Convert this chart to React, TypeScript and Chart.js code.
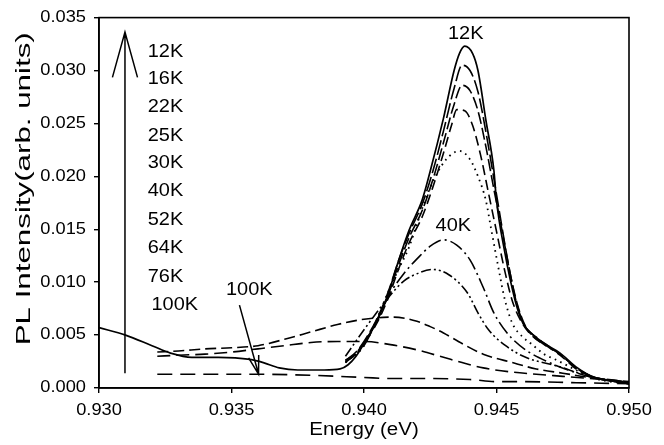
import React, { useEffect, useRef } from "react";
import { Chart, registerables } from "chart.js";

Chart.register(...registerables);

// ---------- axes ----------
const X_MIN = 0.93;
const X_MAX = 0.95;
const Y_MIN = 0;
const Y_MAX = 0.035;
const X_TICKS = [0.93, 0.935, 0.94, 0.945, 0.95];
const Y_TICKS = [0, 0.005, 0.01, 0.015, 0.02, 0.025, 0.03, 0.035];
const X_TITLE = "Energy (eV)";
const Y_TITLE = "PL Intensity(arb. units)";

// ---------- series (energy eV, PL intensity) ----------
const E_12K = [0.93, 0.931, 0.932, 0.9327, 0.9335, 0.9345, 0.9357, 0.9362, 0.9368, 0.9375, 0.9385, 0.9391, 0.9394, 0.9397, 0.94, 0.9405, 0.9409, 0.9413, 0.9417, 0.9422, 0.9425, 0.943, 0.9434, 0.9436, 0.9438, 0.9441, 0.9443, 0.9446, 0.9449, 0.945, 0.9453, 0.9457, 0.946, 0.9463, 0.9468, 0.9474, 0.948, 0.9487, 0.9493, 0.95];
const I_12K = [0.0057, 0.005, 0.004, 0.0033, 0.0029, 0.0029, 0.0027, 0.0024, 0.0019, 0.0017, 0.0017, 0.0018, 0.0022, 0.003, 0.0042, 0.0064, 0.0088, 0.012, 0.0149, 0.0178, 0.0205, 0.0255, 0.03, 0.0316, 0.0323, 0.0316, 0.03, 0.0253, 0.0206, 0.0177, 0.013, 0.0083, 0.0061, 0.0052, 0.0042, 0.0033, 0.002, 0.001, 0.0007, 0.0005];

const E_16K = [0.9393, 0.9397, 0.94, 0.9405, 0.9409, 0.9413, 0.9417, 0.9422, 0.9426, 0.943, 0.9434, 0.9437, 0.944, 0.9443, 0.9446, 0.9449, 0.9451, 0.9454, 0.9457, 0.946, 0.9463, 0.9468, 0.9474, 0.948, 0.9487, 0.9493, 0.95];
const I_16K = [0.0026, 0.0034, 0.0044, 0.0066, 0.009, 0.012, 0.0146, 0.0174, 0.0205, 0.0243, 0.0283, 0.0305, 0.03, 0.028, 0.0242, 0.0198, 0.0168, 0.0124, 0.0086, 0.0062, 0.0051, 0.0041, 0.0032, 0.0019, 0.001, 0.0007, 0.0004];

const E_22K = [0.9393, 0.9397, 0.94, 0.9405, 0.9409, 0.9413, 0.9417, 0.9422, 0.9426, 0.943, 0.9434, 0.9437, 0.944, 0.9443, 0.9446, 0.9449, 0.9452, 0.9455, 0.9458, 0.9461, 0.9465, 0.947, 0.9475, 0.948, 0.9487, 0.9493, 0.95];
const I_22K = [0.0026, 0.0033, 0.0043, 0.0064, 0.0087, 0.0116, 0.0142, 0.0168, 0.0197, 0.0232, 0.0268, 0.0286, 0.0281, 0.0262, 0.0228, 0.0188, 0.015, 0.011, 0.0078, 0.0058, 0.0048, 0.0039, 0.003, 0.0019, 0.001, 0.0007, 0.0004];

const E_25K = [0.9393, 0.9397, 0.94, 0.9405, 0.9409, 0.9413, 0.9417, 0.9422, 0.9426, 0.943, 0.9433, 0.9435, 0.9438, 0.9441, 0.9444, 0.9447, 0.945, 0.9453, 0.9456, 0.946, 0.9464, 0.947, 0.9475, 0.948, 0.9487, 0.9493, 0.95];
const I_25K = [0.0025, 0.0032, 0.0042, 0.0062, 0.0084, 0.0112, 0.0137, 0.0162, 0.019, 0.0222, 0.0248, 0.0263, 0.0262, 0.0248, 0.022, 0.0184, 0.0148, 0.0112, 0.0082, 0.006, 0.0048, 0.0038, 0.0029, 0.0018, 0.001, 0.0007, 0.0004];

const E_30K = [0.9393, 0.94, 0.9405, 0.9409, 0.9413, 0.9417, 0.942, 0.9423, 0.9427, 0.9431, 0.9436, 0.944, 0.9443, 0.9446, 0.9448, 0.9451, 0.9453, 0.9456, 0.946, 0.9463, 0.9468, 0.9473, 0.948, 0.9487, 0.95];
const I_30K = [0.0024, 0.004, 0.0066, 0.009, 0.0112, 0.0133, 0.0155, 0.0177, 0.02, 0.0216, 0.0224, 0.0216, 0.02, 0.0177, 0.015, 0.011, 0.0085, 0.0061, 0.0048, 0.0042, 0.0032, 0.0026, 0.0017, 0.0009, 0.0004];

const E_40K = [0.9393, 0.94, 0.9405, 0.941, 0.9415, 0.942, 0.9425, 0.943, 0.9435, 0.944, 0.9445, 0.9449, 0.9454, 0.9461, 0.947, 0.9477, 0.9486, 0.95];
const I_40K = [0.0024, 0.004, 0.0065, 0.009, 0.0108, 0.0122, 0.0134, 0.014, 0.0135, 0.0121, 0.0095, 0.0071, 0.0052, 0.0036, 0.0024, 0.0017, 0.001, 0.0004];

const E_52K = [0.9393, 0.94, 0.9405, 0.941, 0.9415, 0.9421, 0.9426, 0.9432, 0.9439, 0.9443, 0.9447, 0.9454, 0.9461, 0.9474, 0.9485, 0.95];
const I_52K = [0.003, 0.0055, 0.0072, 0.0088, 0.0101, 0.0109, 0.0112, 0.0107, 0.009, 0.0071, 0.0055, 0.0039, 0.0029, 0.002, 0.0011, 0.0005];

const E_64K = [0.9322, 0.933, 0.934, 0.935, 0.936, 0.937, 0.938, 0.939, 0.94, 0.9411, 0.942, 0.9425, 0.943, 0.9437, 0.9445, 0.9456, 0.9465, 0.9475, 0.9485, 0.95];
const I_64K = [0.0034, 0.0035, 0.0037, 0.0038, 0.004, 0.0046, 0.0053, 0.006, 0.0065, 0.0067, 0.0063, 0.0058, 0.0052, 0.0042, 0.0032, 0.0024, 0.0018, 0.0014, 0.001, 0.0006];

const E_76K = [0.9322, 0.933, 0.934, 0.935, 0.936, 0.937, 0.938, 0.939, 0.94, 0.941, 0.942, 0.943, 0.9437, 0.9445, 0.9456, 0.9465, 0.9475, 0.949, 0.95];
const I_76K = [0.003, 0.0031, 0.0032, 0.0034, 0.0037, 0.004, 0.0043, 0.0044, 0.0044, 0.0041, 0.0036, 0.0029, 0.0024, 0.0019, 0.0015, 0.0013, 0.0011, 0.0008, 0.0006];

const E_100K = [0.9322, 0.934, 0.936, 0.938, 0.94, 0.941, 0.942, 0.944, 0.945, 0.946, 0.948, 0.95];
const I_100K = [0.0013, 0.0013, 0.0013, 0.0012, 0.001, 0.0009, 0.0009, 0.0008, 0.0006, 0.0006, 0.0005, 0.0004];

const TEMPS = ["12K", "16K", "22K", "25K", "30K", "40K", "52K", "64K", "76K", "100K"];
const ENERGIES = [E_12K, E_16K, E_22K, E_25K, E_30K, E_40K, E_52K, E_64K, E_76K, E_100K];
const INTENSITIES = [I_12K, I_16K, I_22K, I_25K, I_30K, I_40K, I_52K, I_64K, I_76K, I_100K];

// line styles (dash patterns in px), one per temperature
const DASHES: number[][] = [
  [],
  [15, 4],
  [12, 4],
  [10, 5],
  [1.6, 4.4],
  [14, 4, 2, 4],
  [10, 3, 2, 3, 2, 3],
  [11, 5],
  [13, 6],
  [15, 8],
];

// ---------- annotations (data coordinates) ----------
const LIST_X = 0.93184;
const LIST_X_LAST = 0.93198;
const LIST_Y = [0.03177, 0.02915, 0.02651, 0.02379, 0.0212, 0.01856, 0.01588, 0.01318, 0.0105, 0.00786];
const PEAK_LABEL = { text: "12K", x: 0.94384, y: 0.0334 };
const LABEL_40K = { text: "40K", x: 0.94337, y: 0.01525 };
const LABEL_100K = { text: "100K", x: 0.93567, y: 0.0092 };
const ARROW_100K = { x1: 0.9353, y1: 0.00783, x2: 0.93602, y2: 0.00132 };
const ARROW_T = { x: 0.93098, y1: 0.00139, y2: 0.03363 };

const FONT = '"Liberation Sans", Arial, Helvetica, sans-serif';
const TEXT_STRETCH = 1.14;

function drawArrow(ctx: CanvasRenderingContext2D, x1: number, y1: number, x2: number, y2: number, head: number, ang: number) {
  ctx.beginPath();
  ctx.moveTo(x1, y1);
  ctx.lineTo(x2, y2);
  const a = Math.atan2(y1 - y2, x1 - x2);
  ctx.moveTo(x2 + head * Math.cos(a + ang), y2 + head * Math.sin(a + ang));
  ctx.lineTo(x2, y2);
  ctx.lineTo(x2 + head * Math.cos(a - ang), y2 + head * Math.sin(a - ang));
  ctx.stroke();
}

const annotPlugin = {
  id: "annot",
  afterDraw(chart: any) {
    const { ctx, chartArea: a, scales } = chart;
    const xs = scales.x;
    const ys = scales.y;
    ctx.save();
    ctx.strokeStyle = "#000";
    ctx.lineWidth = 1.6;
    ctx.setLineDash([]);
    ctx.strokeRect(a.left, a.top, a.right - a.left, a.bottom - a.top);

    // arrows
    ctx.lineWidth = 1.5;
    drawArrow(ctx, xs.getPixelForValue(ARROW_T.x), ys.getPixelForValue(ARROW_T.y1), xs.getPixelForValue(ARROW_T.x), ys.getPixelForValue(ARROW_T.y2), 47, 0.27);
    drawArrow(ctx, xs.getPixelForValue(ARROW_100K.x1), ys.getPixelForValue(ARROW_100K.y1), xs.getPixelForValue(ARROW_100K.x2), ys.getPixelForValue(ARROW_100K.y2), 19, 0.28);

    // labels
    ctx.fillStyle = "#000";
    ctx.font = `17.5px ${FONT}`;
    ctx.textBaseline = "middle";
    ctx.textAlign = "left";
    TEMPS.forEach((t, i) => {
      const lx = i === TEMPS.length - 1 ? LIST_X_LAST : LIST_X;
      ctx.fillText(t, xs.getPixelForValue(lx), ys.getPixelForValue(LIST_Y[i]));
    });
    ctx.textAlign = "center";
    [PEAK_LABEL, LABEL_40K, LABEL_100K].forEach((l) => {
      ctx.fillText(l.text, xs.getPixelForValue(l.x), ys.getPixelForValue(l.y));
    });

    // y-axis title
    const raw = (ctx as any)._rawFillText || ctx.fillText.bind(ctx);
    ctx.font = `20px ${FONT}`;
    const natural = ctx.measureText(Y_TITLE).width;
    const targetLen = 313;
    ctx.translate(24.5, (a.top + a.bottom) / 2 - 14);
    ctx.rotate(-Math.PI / 2);
    ctx.scale(targetLen / natural, 1);
    ctx.textAlign = "center";
    ctx.textBaseline = "middle";
    raw(Y_TITLE, 0, 0);
    ctx.restore();
  },
};

export default function App() {
  const ref = useRef<HTMLCanvasElement | null>(null);

  useEffect(() => {
    const canvas = ref.current;
    if (!canvas) return;
    const ctx = canvas.getContext("2d") as any;
    if (!ctx._rawFillText) {
      const rawFill = ctx.fillText.bind(ctx);
      ctx._rawFillText = rawFill;
      ctx.fillText = (text: string, x: number, y: number) => {
        ctx.save();
        ctx.translate(x, y);
        ctx.scale(TEXT_STRETCH, 1);
        rawFill(text, 0, 0);
        ctx.restore();
      };
    }

    const datasets = TEMPS.map((t, k) => ({
      label: t,
      data: ENERGIES[k].map((e, i) => ({ x: e, y: INTENSITIES[k][i] })),
      showLine: true,
      fill: false,
      borderColor: "#000",
      backgroundColor: "#000",
      borderWidth: k === 0 ? 1.7 : k === 4 ? 1.8 : 1.6,
      borderDash: DASHES[k],
      borderCapStyle: "butt",
      pointRadius: 0,
      pointHoverRadius: 0,
      cubicInterpolationMode: "monotone",
    }));

    const tickFont = { family: FONT, size: 16 };

    const chart = new Chart(canvas, {
      type: "scatter",
      data: { datasets } as any,
      options: {
        responsive: false,
        animation: false,
        events: [],
        layout: { padding: { left: 0, top: 17, right: 35, bottom: 0 } },
        plugins: { legend: { display: false }, tooltip: { enabled: false } },
        scales: {
          x: {
            type: "linear",
            min: X_MIN,
            max: X_MAX,
            afterBuildTicks: (s: any) => {
              s.ticks = X_TICKS.map((v) => ({ value: v }));
            },
            afterFit: (s: any) => {
              s.height = 57;
            },
            ticks: {
              color: "#000",
              font: tickFont,
              padding: 8,
              maxRotation: 0,
              autoSkip: false,
              callback: (v: any) => Number(v).toFixed(3),
            },
            grid: { display: true, drawOnChartArea: false, drawTicks: true, tickLength: 5, color: "#000", lineWidth: 1.4 },
            border: { display: true, color: "#000", width: 1.6 },
            title: { display: true, text: X_TITLE, color: "#000", font: { family: FONT, size: 18 }, padding: { top: 0, bottom: 4 } },
          },
          y: {
            type: "linear",
            min: Y_MIN,
            max: Y_MAX,
            afterBuildTicks: (s: any) => {
              s.ticks = Y_TICKS.map((v) => ({ value: v }));
            },
            afterFit: (s: any) => {
              s.width = 99;
            },
            ticks: {
              color: "#000",
              font: tickFont,
              padding: 8,
              autoSkip: false,
              callback: (v: any) => Number(v).toFixed(3),
            },
            grid: { display: true, drawOnChartArea: false, drawTicks: true, tickLength: 5, color: "#000", lineWidth: 1.4 },
            border: { display: true, color: "#000", width: 1.6 },
            title: { display: false },
          },
        },
      } as any,
      plugins: [annotPlugin],
    });

    return () => chart.destroy();
  }, []);

  return (
    <div style={{ position: "absolute", left: 0, top: 0, width: 664, height: 445, background: "#fff" }}>
      <canvas ref={ref} width={664} height={445} style={{ display: "block", width: 664, height: 445 }} />
    </div>
  );
}
